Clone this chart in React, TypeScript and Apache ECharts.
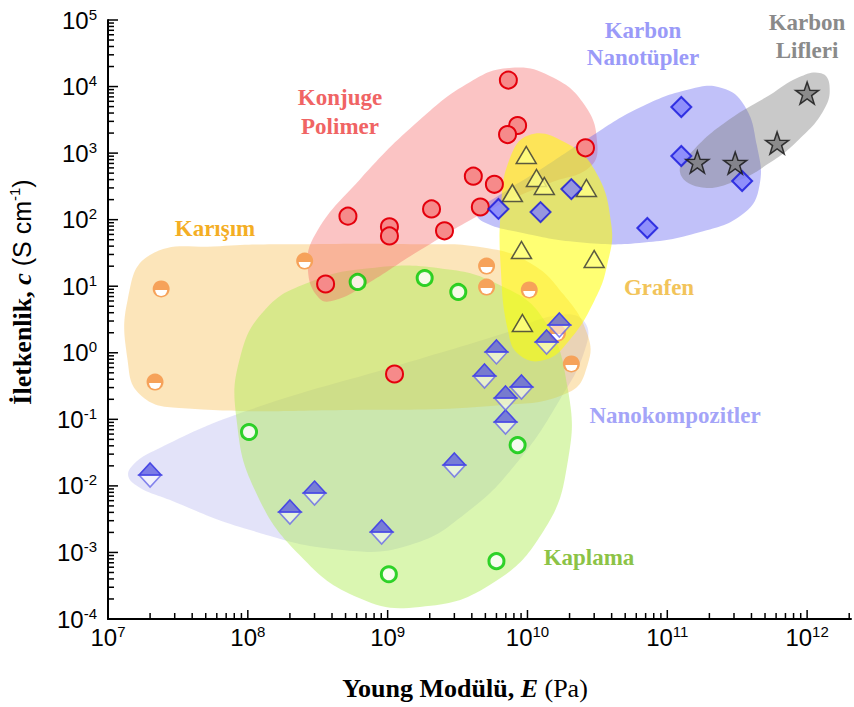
import React, { useEffect, useRef } from 'react';
import * as echarts from 'echarts';

// ---------- data (Young modulus E in Pa, conductivity c in S/cm) ----------
const konjugeE = [7.3e9, 8.5e9, 7.2e9, 2.6e10, 4.1e9, 5.8e9, 4.6e9, 5.2e8, 2.06e9, 2.55e9, 1.03e9, 1.03e9, 3.6e8, 1.12e9];
const konjugeC = [1.25e4, 2.6e3, 1.9e3, 1.2e3, 450, 340, 155, 113, 145, 68, 78, 57, 10.8, 0.48];

const nanotupE = [6.2e9, 1.24e10, 2.06e10, 1.26e11, 1.26e11, 3.43e11, 7.2e10];
const nanotupC = [145, 130, 288, 4930, 904, 381, 75];

const lifE = [1e12, 6.1e11, 1.64e11, 3.06e11];
const lifC = [8000, 1420, 735, 710];

const grafenE = [9.8e9, 1.16e10, 1.32e10, 7.8e9, 2.64e10, 9.06e9, 3.0e10, 9.2e9];
const grafenC = [935, 423, 321, 251, 299, 35, 25.6, 2.8];

const karisimE = [2.4e7, 2.17e7, 2.55e8, 5.1e9, 5.1e9, 1.03e10, 1.64e10, 2.06e10];
const karisimC = [9.1, 0.363, 23.9, 20.1, 9.7, 8.8, 1.98, 0.68];

const kaplamaE = [6.1e8, 1.84e9, 3.2e9, 1.02e8, 8.5e9, 1.02e9, 6.0e9];
const kaplamaC = [11.6, 13.3, 8.2, 0.0645, 0.041, 4.7e-4, 7.4e-4];

const nanokompE = [2.0e7, 2.0e8, 3.0e8, 9.06e8, 3.0e9, 6.97e9, 6.0e9, 4.93e9, 9.06e9, 6.97e9, 1.69e10, 1.37e10];
const nanokompC = [0.0146, 0.00405, 0.0078, 0.00203, 0.0206, 0.0912, 1.03, 0.448, 0.306, 0.209, 2.61, 1.45];

// region outlines as [log10 E, log10 c]
const regionLavender = [[7.16,-1.73],[7.37,-1.43],[8.01,-0.86],[9.09,-0.18],[9.80,0.27],[10.23,0.57],[10.41,0.46],[10.41,0.04],[10.23,-0.71],[9.94,-1.61],[9.59,-2.36],[9.16,-2.89],[8.66,-2.96],[8.01,-2.66],[7.44,-2.21],[7.17,-1.94]];
const regionOrange = [[7.30,1.47],[7.80,1.60],[8.37,1.63],[9.23,1.63],[9.66,1.59],[10.01,1.36],[10.26,0.87],[10.43,0.27],[10.43,-0.18],[10.30,-0.59],[9.80,-0.79],[8.73,-0.86],[7.51,-0.83],[7.23,-0.63],[7.14,-0.11],[7.14,0.79]];
const regionGreen = [[7.94,-0.11],[8.12,0.64],[8.44,1.06],[8.87,1.27],[9.37,1.27],[9.80,1.02],[10.12,0.49],[10.29,-0.56],[10.29,-1.61],[10.12,-2.66],[9.73,-3.49],[9.23,-3.82],[8.80,-3.69],[8.37,-3.04],[8.05,-2.06],[7.92,-1.01]];
const regionPink = [[8.51,0.82],[8.43,1.24],[8.48,1.77],[8.80,2.60],[9.23,3.50],[9.59,4.07],[9.87,4.28],[10.16,4.16],[10.41,3.72],[10.50,3.12],[10.44,2.78],[10.16,2.55],[9.73,2.15],[9.23,1.54],[8.84,1.02],[8.62,0.79]];
const regionBlue = [[9.64,2.11],[9.80,2.37],[10.09,2.75],[10.44,3.23],[10.80,3.68],[11.16,3.96],[11.39,3.98],[11.55,3.72],[11.64,3.12],[11.66,2.52],[11.55,2.10],[11.23,1.81],[10.80,1.65],[10.37,1.66],[9.94,1.81],[9.69,1.96]];
const regionYellow = [[10.01,3.27],[10.26,3.17],[10.48,2.75],[10.60,1.92],[10.57,1.32],[10.48,0.79],[10.30,0.19],[10.12,-0.11],[9.94,-0.03],[9.86,0.34],[9.81,1.24],[9.81,2.15],[9.87,2.90]];
const regionGrey = [[11.09,2.72],[11.19,3.05],[11.44,3.50],[11.73,3.87],[11.94,4.14],[12.10,4.20],[12.16,4.02],[12.12,3.65],[11.94,3.20],[11.73,2.85],[11.48,2.57],[11.23,2.49]];

const X_MIN = 1e7;
const X_MAX = 2.06e12;
const Y_MIN = 1e-4;
const Y_MAX = 1e5;
const xDecades = [7, 8, 9, 10, 11, 12];
const yDecades = [-4, -3, -2, -1, 0, 1, 2, 3, 4, 5];
const minorMultipliers = [2, 3, 4, 5, 6, 7, 8, 9];

const SERIF = '"Liberation Serif", "Times New Roman", serif';
const SANS = '"Liberation Sans", Arial, sans-serif';

function buildTicks(decades: number[], lo: number, hi: number) {
  const out: { v: number; major: number }[] = [];
  decades.forEach((d) => {
    const base = Math.pow(10, d);
    if (base >= lo * 0.999 && base <= hi * 1.001) out.push({ v: base, major: 1 });
    minorMultipliers.forEach((m) => {
      const v = m * base;
      if (v <= hi * 1.001) out.push({ v, major: 0 });
    });
  });
  return out;
}

const pairs = (a: number[], b: number[]) => a.map((v, i) => [v, b[i]]);

function regionSeries(pts: number[][], fill: string) {
  return {
    type: 'custom',
    coordinateSystem: 'cartesian2d',
    silent: true,
    data: [[Math.pow(10, pts[0][0]), Math.pow(10, pts[0][1])]],
    renderItem: (_p: any, api: any) => {
      const points = pts.map(([a, b]) => api.coord([Math.pow(10, a), Math.pow(10, b)]));
      return { type: 'polygon', shape: { points, smooth: 0.45 }, style: { fill } };
    },
  };
}

const tickFormatter = (v: number) => {
  const l = Math.log10(v);
  const e = Math.round(l);
  if (Math.abs(l - e) > 1e-6) return '';
  return `{b|10}{s|${e}}`;
};

const labelRich = {
  b: { fontFamily: SANS, fontSize: 24, lineHeight: 27, color: '#000' },
  s: { fontFamily: SANS, fontSize: 15, lineHeight: 15, verticalAlign: 'top', color: '#000' },
};

export default function App() {
  const ref = useRef<HTMLDivElement>(null);
  useEffect(() => {
    if (!ref.current) return;
    const chart = echarts.init(ref.current, undefined, { renderer: 'svg' });
    const xTicks = buildTicks(xDecades, X_MIN, X_MAX);
    const yTicks = buildTicks(yDecades, Y_MIN, Y_MAX);

    const option: any = {
      animation: false,
      backgroundColor: '#fff',
      grid: { left: 108, right: 2, top: 20, bottom: 88 },
      xAxis: {
        type: 'log', logBase: 10, min: X_MIN, max: X_MAX,
        axisLine: { lineStyle: { color: '#000', width: 2 } },
        axisTick: { show: false },
        splitLine: { show: false },
        axisLabel: { formatter: tickFormatter, margin: 5, rich: labelRich, color: '#000' },
      },
      yAxis: {
        type: 'log', logBase: 10, min: Y_MIN, max: Y_MAX,
        axisLine: { lineStyle: { color: '#000', width: 2 } },
        axisTick: { show: false },
        splitLine: { show: false },
        axisLabel: { formatter: tickFormatter, margin: 11, rich: labelRich, color: '#000' },
      },
      series: [
        regionSeries(regionLavender, 'rgba(150,150,232,0.27)'),
        regionSeries(regionOrange, 'rgba(246,182,64,0.36)'),
        regionSeries(regionGreen, 'rgba(172,236,82,0.45)'),
        regionSeries(regionPink, 'rgba(244,100,100,0.38)'),
        regionSeries(regionBlue, 'rgba(100,100,240,0.40)'),
        regionSeries(regionYellow, 'rgba(255,255,0,0.55)'),
        regionSeries(regionGrey, 'rgba(120,120,120,0.40)'),
        {
          name: 'Karışım', type: 'custom', coordinateSystem: 'cartesian2d',
          data: pairs(karisimE, karisimC),
          renderItem: (_p: any, api: any) => {
            const p = api.coord([api.value(0), api.value(1)]);
            return {
              type: 'group', children: [
                { type: 'circle', shape: { cx: p[0], cy: p[1], r: 8.5 }, style: { fill: '#f6a25a' } },
                { type: 'sector', shape: { cx: p[0], cy: p[1] + 1, r0: 0, r: 6, startAngle: 0, endAngle: Math.PI, clockwise: true }, style: { fill: '#fff' } },
              ],
            };
          },
        },
        {
          name: 'Nanokompozitler', type: 'custom', coordinateSystem: 'cartesian2d',
          data: pairs(nanokompE, nanokompC),
          renderItem: (_p: any, api: any) => {
            const p = api.coord([api.value(0), api.value(1)]);
            const w = 11, h = 12, x = p[0], y = p[1];
            return {
              type: 'group', children: [
                { type: 'polygon', shape: { points: [[x - w, y], [x + w, y], [x, y + h]] }, style: { fill: 'rgba(255,255,255,0.55)', stroke: 'rgba(105,105,232,0.8)', lineWidth: 1.6 } },
                { type: 'polygon', shape: { points: [[x, y - h], [x + w, y], [x - w, y]] }, style: { fill: 'rgba(95,95,225,0.78)', stroke: '#4848e4', lineWidth: 1.6 } },
              ],
            };
          },
        },
        {
          name: 'Kaplama', type: 'scatter', data: pairs(kaplamaE, kaplamaC),
          symbol: 'circle', symbolSize: 15,
          itemStyle: { color: '#fff', borderColor: '#00c800', borderWidth: 3 },
        },
        {
          name: 'Konjuge Polimer', type: 'scatter', data: pairs(konjugeE, konjugeC),
          symbol: 'circle', symbolSize: 17,
          itemStyle: { color: '#f68a8a', borderColor: '#e4000c', borderWidth: 2, opacity: 1 },
        },
        {
          name: 'Grafen', type: 'scatter', data: pairs(grafenE, grafenC),
          symbol: 'triangle', symbolSize: [20, 17],
          itemStyle: { color: '#ffff84', borderColor: '#333', borderWidth: 1.5 },
        },
        {
          name: 'Karbon Nanotüpler', type: 'scatter', data: pairs(nanotupE, nanotupC),
          symbol: 'diamond', symbolSize: 20,
          itemStyle: { color: '#8282fb', borderColor: '#1414dc', borderWidth: 2 },
        },
        {
          name: 'Karbon Lifleri', type: 'scatter', data: pairs(lifE, lifC),
          symbol: 'path://M12,0 L14.9,8.6 L23.9,8.7 L16.7,14.1 L19.4,22.8 L12,17.5 L4.6,22.8 L7.3,14.1 L0.1,8.7 L9.1,8.6 Z',
          symbolKeepAspect: true, symbolSize: 23,
          itemStyle: { color: '#7c7c7c', borderColor: '#111', borderWidth: 1.5 },
        },
        {
          type: 'custom', coordinateSystem: 'cartesian2d', silent: true, z: 10,
          data: xTicks.map((t) => [t.v, Y_MIN, t.major]),
          renderItem: (_p: any, api: any) => {
            const p = api.coord([api.value(0), api.value(1)]);
            const len = api.value(2) ? 9 : 6;
            return { type: 'line', shape: { x1: p[0], y1: p[1], x2: p[0], y2: p[1] - len }, style: { stroke: '#000', lineWidth: 1.5 } };
          },
        },
        {
          type: 'custom', coordinateSystem: 'cartesian2d', silent: true, z: 10,
          data: yTicks.map((t) => [X_MIN, t.v, t.major]),
          renderItem: (_p: any, api: any) => {
            const p = api.coord([api.value(0), api.value(1)]);
            const len = api.value(2) ? 10 : 6;
            return { type: 'line', shape: { x1: p[0], y1: p[1], x2: p[0] + len, y2: p[1] }, style: { stroke: '#000', lineWidth: 1.5 } };
          },
        },
      ],
      graphic: [
        { type: 'text', x: 340, y: 112, style: { text: 'Konjuge\nPolimer', fontFamily: SERIF, fontWeight: 'bold', fontSize: 23, lineHeight: 29, fill: '#f06464', align: 'center', verticalAlign: 'middle' } },
        { type: 'text', x: 643, y: 44, style: { text: 'Karbon\nNanotüpler', fontFamily: SERIF, fontWeight: 'bold', fontSize: 23, lineHeight: 27, fill: '#9a9af8', align: 'center', verticalAlign: 'middle' } },
        { type: 'text', x: 807, y: 36, style: { text: 'Karbon\nLifleri', fontFamily: SERIF, fontWeight: 'bold', fontSize: 23, lineHeight: 28, fill: '#8a8a8a', align: 'center', verticalAlign: 'middle' } },
        { type: 'text', x: 215, y: 228, style: { text: 'Karışım', fontFamily: SERIF, fontWeight: 'bold', fontSize: 23, fill: '#f4ae24', align: 'center', verticalAlign: 'middle' } },
        { type: 'text', x: 659, y: 287, style: { text: 'Grafen', fontFamily: SERIF, fontWeight: 'bold', fontSize: 23, fill: '#f2c45a', align: 'center', verticalAlign: 'middle' } },
        { type: 'text', x: 675, y: 415, style: { text: 'Nanokompozitler', fontFamily: SERIF, fontWeight: 'bold', fontSize: 23, fill: '#a4a4f8', align: 'center', verticalAlign: 'middle' } },
        { type: 'text', x: 589, y: 557, style: { text: 'Kaplama', fontFamily: SERIF, fontWeight: 'bold', fontSize: 23, fill: '#8cc346', align: 'center', verticalAlign: 'middle' } },
        {
          type: 'text', x: 465, y: 688,
          style: {
            text: '{b|Young Modülü, }{bi|E}{r| (Pa)}', align: 'center', verticalAlign: 'middle',
            rich: {
              b: { fontFamily: SERIF, fontWeight: 'bold', fontSize: 26, fill: '#000', color: '#000' },
              bi: { fontFamily: SERIF, fontWeight: 'bold', fontStyle: 'italic', fontSize: 26, fill: '#000', color: '#000' },
              r: { fontFamily: SERIF, fontSize: 26, fill: '#000', color: '#000' },
            },
          },
        },
        {
          type: 'text', x: 22, y: 292, rotation: Math.PI / 2,
          style: {
            text: '{b|İletkenlik, }{bi|c}{s| (S cm}{sup|-1}{s|)}', align: 'center', verticalAlign: 'middle',
            rich: {
              b: { fontFamily: SERIF, fontWeight: 'bold', fontSize: 26, lineHeight: 30, fill: '#000', color: '#000' },
              bi: { fontFamily: SERIF, fontWeight: 'bold', fontStyle: 'italic', fontSize: 26, lineHeight: 30, fill: '#000', color: '#000' },
              s: { fontFamily: SANS, fontSize: 25, lineHeight: 30, fill: '#000', color: '#000' },
              sup: { fontFamily: SANS, fontSize: 15, lineHeight: 15, verticalAlign: 'top', fill: '#000', color: '#000' },
            },
          },
        },
      ],
    };
    chart.setOption(option);
    return () => chart.dispose();
  }, []);
  return <div ref={ref} style={{ position: 'fixed', left: 0, top: 0, width: 854, height: 707 }} />;
}
